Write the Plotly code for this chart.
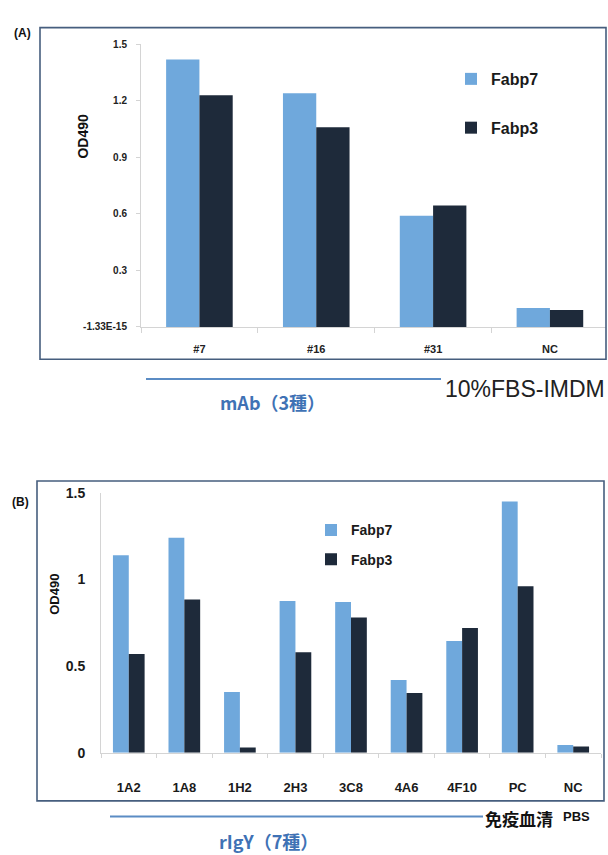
import plotly.graph_objects as go

# ---- panel (A): monoclonal antibodies ----
a_categories = ["#7", "#16", "#31", "NC"]
a_fabp7 = [1.42, 1.24, 0.59, 0.10]
a_fabp3 = [1.23, 1.06, 0.645, 0.09]
a_tickvals = [0, 0.3, 0.6, 0.9, 1.2, 1.5]
a_ticktext = ["-1.33E-15", "0.3", "0.6", "0.9", "1.2", "1.5"]

# ---- panel (B): recombinant IgY ----
b_categories = ["1A2", "1A8", "1H2", "2H3", "3C8", "4A6", "4F10", "PC", "NC"]
b_fabp7 = [1.14, 1.24, 0.35, 0.875, 0.87, 0.42, 0.645, 1.45, 0.045]
b_fabp3 = [0.57, 0.885, 0.03, 0.58, 0.78, 0.345, 0.72, 0.96, 0.037]
b_tickvals = [0, 0.5, 1, 1.5]
b_ticktext = ["0", "0.5", "1", "1.5"]

series_names = ["Fabp7", "Fabp3"]
colors = ["#6fa8dc", "#1e2a3a"]

W, H = 608, 855
FONT = "Liberation Sans, Arial, sans-serif"
CJK = "Noto Sans CJK JP, sans-serif"
AXIS_GRAY = "#d4d4d4"
FRAME = "#465e7e"
BLUE_TXT = "#3f72b5"


def px(x):
    return x / W


def py(y):
    return 1 - y / H


fig = go.Figure()

for name, vals, col in zip(series_names, [a_fabp7, a_fabp3], colors):
    fig.add_trace(go.Bar(
        x=a_categories, y=vals, name=name, marker=dict(color=col, line=dict(width=0)),
        xaxis="x", yaxis="y", legend="legend", legendgroup="a_" + name,
    ))

for name, vals, col in zip(series_names, [b_fabp7, b_fabp3], colors):
    fig.add_trace(go.Bar(
        x=b_categories, y=vals, name=name, marker=dict(color=col, line=dict(width=0)),
        xaxis="x2", yaxis="y2", legend="legend2", legendgroup="b_" + name,
    ))

bold = dict(weight="bold")

fig.update_layout(
    width=W, height=H, margin=dict(l=0, r=0, t=0, b=0),
    paper_bgcolor="white", plot_bgcolor="rgba(0,0,0,0)",
    barmode="group", bargap=0.43, bargroupgap=0,
    font=dict(family=FONT, color="#1a1a1a"),
    xaxis=dict(
        domain=[px(141), px(606)], range=[-0.5, 3.48], anchor="y",
        type="category", showline=True, linecolor=AXIS_GRAY, linewidth=1,
        tickson="boundaries", ticks="outside", ticklen=5, tickcolor=AXIS_GRAY,
        showgrid=False, zeroline=False, ticklabelstandoff=12,
        tickfont=dict(family=FONT, size=11, color="#222", **bold),
    ),
    yaxis=dict(
        domain=[py(325), py(37)], range=[0, 1.5], anchor="x",
        showline=True, linecolor=AXIS_GRAY, linewidth=1,
        ticks="outside", ticklen=4, tickcolor=AXIS_GRAY,
        tickvals=a_tickvals, ticktext=a_ticktext,
        showgrid=False, zeroline=False, ticklabelstandoff=7,
        tickfont=dict(family=FONT, size=10, color="#222", **bold),
    ),
    xaxis2=dict(
        domain=[px(101), px(601)], range=[-0.5, 8.5], anchor="y2",
        type="category", showline=True, linecolor=AXIS_GRAY, linewidth=1,
        tickson="boundaries", ticks="outside", ticklen=4, tickcolor=AXIS_GRAY,
        showgrid=False, zeroline=False, ticklabelstandoff=23,
        tickfont=dict(family=FONT, size=13, color="#1a1a1a", **bold),
    ),
    yaxis2=dict(
        domain=[py(759), py(494)], range=[0, 1.5], anchor="x2",
        showline=True, linecolor=AXIS_GRAY, linewidth=1,
        ticks="", tickvals=b_tickvals, ticktext=b_ticktext,
        showgrid=False, zeroline=False, ticklabelstandoff=12,
        tickfont=dict(family=FONT, size=14, color="#1a1a1a", **bold),
    ),
    legend=dict(
        x=px(451), y=py(55), xanchor="left", yanchor="top",
        traceorder="grouped", tracegroupgap=25, bgcolor="rgba(0,0,0,0)",
        font=dict(family=FONT, size=16, color="#1a1a1a", **bold),
    ),
    legend2=dict(
        x=px(311), y=py(516), xanchor="left", yanchor="top",
        traceorder="grouped", tracegroupgap=8, bgcolor="rgba(0,0,0,0)",
        font=dict(family=FONT, size=14, color="#1a1a1a", **bold),
    ),
)

shapes = [
    # chart frames
    dict(type="rect", xref="paper", yref="paper", x0=px(40), x1=px(606), y0=py(358), y1=py(20),
         line=dict(color=FRAME, width=1.6), fillcolor="rgba(0,0,0,0)"),
    dict(type="rect", xref="paper", yref="paper", x0=px(37), x1=px(604), y0=py(808), y1=py(482),
         line=dict(color=FRAME, width=1.6), fillcolor="rgba(0,0,0,0)"),
    # group brackets under each chart
    dict(type="line", xref="paper", yref="paper", x0=px(146), x1=px(441), y0=py(378), y1=py(378),
         line=dict(color="#5b8cc4", width=2)),
    dict(type="line", xref="paper", yref="paper", x0=px(110), x1=px(483), y0=py(824), y1=py(824),
         line=dict(color="#5b8cc4", width=2)),
]

annotations = [
    dict(text="(A)", x=px(12), y=py(25), xanchor="left", yanchor="middle",
         font=dict(family=FONT, size=12, color="#111", **bold)),
    dict(text="OD490", x=px(83), y=py(131), textangle=-90, xanchor="center", yanchor="middle",
         font=dict(family=FONT, size=14, color="#111", **bold)),
    dict(text="mAb（3種）", x=px(272), y=py(402), xanchor="center", yanchor="middle",
         font=dict(family=CJK, size=18, color=BLUE_TXT, **bold)),
    dict(text="10%FBS-IMDM", x=px(607), y=py(388), xanchor="right", yanchor="middle",
         font=dict(family=FONT, size=23, color="#222")),
    dict(text="(B)", x=px(10), y=py(503), xanchor="left", yanchor="middle",
         font=dict(family=FONT, size=12, color="#111", **bold)),
    dict(text="OD490", x=px(55), y=py(598), textangle=-90, xanchor="center", yanchor="middle",
         font=dict(family=FONT, size=13, color="#111", **bold)),
    dict(text="免疫血清", x=px(483), y=py(826), xanchor="left", yanchor="middle",
         font=dict(family=CJK, size=17, color="#111", **bold)),
    dict(text="PBS", x=px(561), y=py(824), xanchor="left", yanchor="middle",
         font=dict(family=FONT, size=13, color="#111", **bold)),
    dict(text="rIgY（7種）", x=px(268), y=py(849), xanchor="center", yanchor="middle",
         font=dict(family=CJK, size=18, color=BLUE_TXT, **bold)),
]
for a in annotations:
    a.update(xref="paper", yref="paper", showarrow=False)

fig.update_layout(shapes=shapes, annotations=annotations)

fig.write_html("out.html")
